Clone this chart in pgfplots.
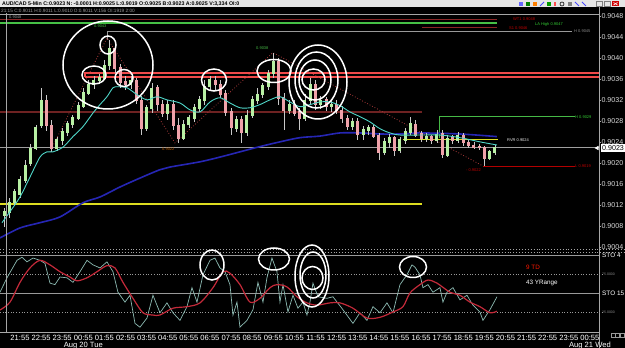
\documentclass[border=0pt]{standalone}
\usepackage{fontspec}
\setmainfont{Liberation Sans}
\usepackage{pgfplots}
\usepackage{pgfplotstable}
\pgfplotsset{compat=1.18}

\definecolor{upc}{HTML}{B8F0A4}
\definecolor{dnc}{HTML}{EFA2AA}
\definecolor{wick}{HTML}{C8C8C8}
\definecolor{axg}{HTML}{A8A8A8}
\definecolor{labg}{HTML}{DADADA}
\definecolor{grn}{HTML}{46C046}
\definecolor{dred}{HTML}{8A2626}
\definecolor{dred2}{HTML}{6E2222}
\definecolor{bandred}{HTML}{F04A4A}
\definecolor{yel}{HTML}{DCDC20}
\definecolor{cyanma}{HTML}{4FD6C8}
\definecolor{bluema}{HTML}{2626B4}
\definecolor{stof}{HTML}{8CBAB2}
\definecolor{stos}{HTML}{C42A3A}
\definecolor{titlebar}{HTML}{E6E6E6}
\definecolor{zig}{HTML}{A83A3A}

% 15-minute candles, x in hours after 21:55 (Aug 19)
\pgfplotstableread{
x o h l c
-0.75 0.90101 0.90114 0.90078 0.90107
-0.50 0.90107 0.90133 0.90095 0.90126
-0.25 0.90126 0.90152 0.90118 0.90145
0.00 0.90139 0.90175 0.90133 0.90168
0.25 0.90168 0.90206 0.90162 0.90196
0.50 0.90200 0.90236 0.90194 0.90229
0.75 0.90229 0.90272 0.90225 0.90267
1.00 0.90272 0.90343 0.90267 0.90320
1.75 0.90229 0.90251 0.90223 0.90244
2.00 0.90244 0.90267 0.90234 0.90259
2.25 0.90259 0.90282 0.90253 0.90274
2.50 0.90274 0.90293 0.90267 0.90286
2.75 0.90286 0.90316 0.90282 0.90309
3.00 0.90309 0.90343 0.90305 0.90335
3.25 0.90335 0.90358 0.90330 0.90350
3.50 0.90350 0.90366 0.90343 0.90358
3.75 0.90358 0.90370 0.90350 0.90362
4.00 0.90362 0.90396 0.90358 0.90387
4.25 0.90387 0.90434 0.90377 0.90419
5.25 0.90350 0.90366 0.90343 0.90358
6.00 0.90267 0.90312 0.90263 0.90305
6.25 0.90305 0.90354 0.90297 0.90343
7.00 0.90297 0.90320 0.90282 0.90312
7.75 0.90248 0.90282 0.90244 0.90274
8.00 0.90274 0.90293 0.90267 0.90286
8.25 0.90286 0.90314 0.90278 0.90305
8.50 0.90305 0.90328 0.90297 0.90320
8.75 0.90320 0.90358 0.90312 0.90347
9.00 0.90347 0.90366 0.90339 0.90358
10.25 0.90267 0.90290 0.90259 0.90282
10.75 0.90259 0.90301 0.90253 0.90291
11.00 0.90291 0.90328 0.90286 0.90320
11.25 0.90320 0.90343 0.90312 0.90331
11.50 0.90331 0.90354 0.90324 0.90347
11.75 0.90347 0.90377 0.90339 0.90370
12.00 0.90370 0.90410 0.90362 0.90392
12.75 0.90301 0.90320 0.90293 0.90312
13.50 0.90286 0.90331 0.90280 0.90320
13.75 0.90320 0.90362 0.90312 0.90350
14.25 0.90312 0.90328 0.90305 0.90320
14.75 0.90309 0.90320 0.90297 0.90312
15.75 0.90271 0.90286 0.90263 0.90278
16.25 0.90255 0.90271 0.90244 0.90263
16.50 0.90263 0.90274 0.90255 0.90267
17.25 0.90221 0.90248 0.90215 0.90240
17.50 0.90240 0.90255 0.90229 0.90248
18.00 0.90225 0.90251 0.90219 0.90244
18.25 0.90244 0.90267 0.90238 0.90259
18.50 0.90259 0.90288 0.90253 0.90274
19.25 0.90248 0.90257 0.90240 0.90251
19.75 0.90244 0.90263 0.90238 0.90255
20.25 0.90217 0.90255 0.90213 0.90248
20.75 0.90244 0.90259 0.90238 0.90253
22.25 0.90210 0.90225 0.90206 0.90221
22.50 0.90221 0.90234 0.90215 0.90230
}\uptab

\pgfplotstableread{
x o h l c
1.25 0.90320 0.90330 0.90263 0.90272
1.50 0.90272 0.90282 0.90221 0.90229
4.50 0.90419 0.90425 0.90373 0.90381
4.75 0.90381 0.90389 0.90343 0.90354
5.00 0.90354 0.90366 0.90339 0.90350
5.50 0.90358 0.90362 0.90312 0.90320
5.75 0.90320 0.90328 0.90253 0.90267
6.50 0.90343 0.90350 0.90301 0.90312
6.75 0.90312 0.90320 0.90288 0.90297
7.25 0.90312 0.90320 0.90263 0.90272
7.50 0.90272 0.90286 0.90238 0.90248
9.25 0.90358 0.90366 0.90339 0.90350
9.50 0.90350 0.90358 0.90324 0.90331
9.75 0.90331 0.90339 0.90290 0.90297
10.00 0.90297 0.90305 0.90255 0.90267
10.50 0.90282 0.90290 0.90238 0.90259
12.25 0.90392 0.90400 0.90312 0.90324
12.50 0.90324 0.90335 0.90263 0.90301
13.00 0.90312 0.90320 0.90290 0.90297
13.25 0.90297 0.90305 0.90263 0.90286
14.00 0.90350 0.90358 0.90301 0.90312
14.50 0.90320 0.90326 0.90301 0.90309
15.00 0.90312 0.90320 0.90293 0.90301
15.25 0.90301 0.90309 0.90278 0.90286
15.50 0.90286 0.90293 0.90263 0.90271
16.00 0.90278 0.90286 0.90244 0.90255
16.75 0.90267 0.90274 0.90248 0.90251
17.00 0.90251 0.90259 0.90206 0.90221
17.75 0.90248 0.90253 0.90215 0.90225
18.75 0.90274 0.90282 0.90250 0.90255
19.00 0.90255 0.90263 0.90242 0.90248
19.50 0.90251 0.90255 0.90238 0.90244
20.00 0.90255 0.90263 0.90210 0.90217
20.50 0.90248 0.90255 0.90238 0.90244
21.00 0.90253 0.90259 0.90234 0.90240
21.25 0.90240 0.90246 0.90229 0.90234
21.50 0.90234 0.90240 0.90227 0.90231
21.75 0.90231 0.90236 0.90225 0.90229
22.00 0.90229 0.90234 0.90195 0.90210
}\dntab

\begin{document}
\begin{tikzpicture}
\useasboundingbox (0,0) rectangle (625pt,348pt);
\fill[black] (0,0) rectangle (625pt,348pt);

% ---------------- price pane ----------------
\begin{axis}[
  at={(0pt,98pt)}, anchor=south west, scale only axis,
  width=599pt, height=242pt,
  xmin=-0.947, xmax=27.43, ymin=0.90034, ymax=0.90495,
  axis x line=none, axis y line=right,
  y axis line style={draw=axg, line width=0.8pt, -},
  ytick={0.9004,0.9008,0.9012,0.9016,0.902,0.9024,0.9028,0.9032,0.9036,0.904,0.9044,0.9048},
  tick align=outside, major tick length=2pt,
  ytick style={draw=axg, line width=0.6pt},
  scaled y ticks=false,
  /pgf/number format/assume math mode=true,
  yticklabel style={/pgf/number format/fixed, /pgf/number format/fixed zerofill, /pgf/number format/precision=4, font=\fontsize{7.1}{8}\selectfont, text=labg, inner sep=0.3pt},
]
% level lines
\addplot[gray!70, line width=1pt] coordinates {(-0.947,0.90482) (27.43,0.90482)};
\addplot[dred, line width=1pt] coordinates {(-0.947,0.90474) (22.60,0.90474)};
\addplot[grn, line width=2pt] coordinates {(-0.947,0.90467) (22.60,0.90467)};
\addplot[dred, line width=1pt] coordinates {(19.04,0.90457) (22.60,0.90457)};
\addplot[gray!80, line width=0.7pt] coordinates {(4.12,0.90434) (4.12,0.90451) (26.15,0.90451)};
\addplot[bandred, line width=2pt] coordinates {(3.08,0.903632) (27.6,0.903632) (27.6,0.90372) (3.08,0.90372) (3.08,0.903632)};
\addplot[dred2, line width=1.2pt] coordinates {(-0.947,0.90297) (19.04,0.90297)};
\addplot[gray!75, line width=0.8pt] coordinates {(-0.947,0.90230) (27.43,0.90230)};
\addplot[yel, line width=1.4pt] coordinates {(-0.947,0.90122) (19.04,0.90122)};
\addplot[green!45!gray, line width=0.7pt] coordinates {(19.85,0.90248) (19.85,0.90288) (26.29,0.90288)};
\addplot[red!70!black, line width=0.7pt] coordinates {(21.93,0.90194) (26.29,0.90194)};
% slow MA
\addplot[bluema, line width=1.6pt, smooth] coordinates {
(-0.947,0.90057) (0,0.90076) (0.947,0.90086) (1.895,0.90097) (2.984,0.90124) (3.790,0.90135)
(4.737,0.90154) (5.684,0.90171) (6.632,0.90187) (7.106,0.90192) (8.527,0.90202) (9.474,0.90211)
(10.422,0.90221) (11.369,0.90231) (12.316,0.90240) (13.264,0.90248) (14.211,0.90251) (15.159,0.90257)
(16.106,0.90257) (17.054,0.90255) (18.001,0.90255) (18.948,0.90257) (20.843,0.90255) (22.596,0.90250)};
% RVR line
\addplot[yel, line width=1.3pt] coordinates {(18.14,0.90244) (22.64,0.90244)};
% zigzag
\addplot[zig, dotted, line width=0.8pt] coordinates {(1.421,0.90221) (4.121,0.90438) (7.343,0.90238) (11.985,0.90410) (21.933,0.90194)};
% wicks
\addplot[draw=none, mark=none, error bars/.cd, y dir=both, y explicit, error mark=none,
  error bar style={draw=wick, line width=0.6pt, solid}]
  table[x=x, y expr=(\thisrow{h}+\thisrow{l})/2, y error expr=(\thisrow{h}-\thisrow{l})/2] {\uptab};
\addplot[draw=none, mark=none, error bars/.cd, y dir=both, y explicit, error mark=none,
  error bar style={draw=wick, line width=0.6pt, solid}]
  table[x=x, y expr=(\thisrow{h}+\thisrow{l})/2, y error expr=(\thisrow{h}-\thisrow{l})/2] {\dntab};
% bodies
\addplot[draw=none, mark=none, error bars/.cd, y dir=both, y explicit, error mark=none,
  error bar style={draw=upc, line width=3pt, solid}]
  table[x=x, y expr=(\thisrow{o}+\thisrow{c})/2, y error expr=(\thisrow{c}-\thisrow{o})/2+0.000015] {\uptab};
\addplot[draw=none, mark=none, error bars/.cd, y dir=both, y explicit, error mark=none,
  error bar style={draw=dnc, line width=3pt, solid}]
  table[x=x, y expr=(\thisrow{o}+\thisrow{c})/2, y error expr=(\thisrow{o}-\thisrow{c})/2+0.000015] {\dntab};
% fast MA
\addplot[cyanma, line width=0.9pt, smooth] coordinates {
(-0.853,0.90086) (-0.474,0.90107) (0,0.90135) (0.474,0.90173) (0.947,0.90211) (1.279,0.90221)
(1.563,0.90221) (2.037,0.90230) (2.511,0.90250) (2.984,0.90269) (3.458,0.90295) (3.790,0.90311)
(4.121,0.90326) (4.405,0.90343) (4.642,0.90345) (5.069,0.90343) (5.542,0.90330) (6.016,0.90320)
(6.490,0.90326) (6.963,0.90320) (7.579,0.90314) (8.053,0.90301) (8.527,0.90297) (9.001,0.90316)
(9.474,0.90324) (9.948,0.90314) (10.422,0.90305) (10.895,0.90305) (11.369,0.90311) (11.843,0.90320)
(12.316,0.90326) (12.790,0.90316) (13.264,0.90307) (13.738,0.90311) (14.211,0.90316) (14.685,0.90316)
(15.159,0.90309) (15.632,0.90297) (16.106,0.90288) (16.580,0.90278) (17.054,0.90265) (17.527,0.90257)
(18.001,0.90253) (18.948,0.90253) (19.896,0.90253) (20.843,0.90248) (21.790,0.90240) (22.596,0.90234)};
\end{axis}

% ---------------- STO pane ----------------
\begin{axis}[
  at={(0pt,16pt)}, anchor=south west, scale only axis,
  width=599pt, height=79pt,
  xmin=-0.947, xmax=27.43, ymin=-1.32, ymax=102.63,
  axis x line=bottom, axis y line=right,
  x axis line style={draw=axg, line width=0.8pt, -},
  y axis line style={draw=axg, line width=0.8pt, -},
  ytick=\empty,
  xtick={0,1,...,27},
  xticklabels={21:55,22:55,23:55,{00:55\\Aug 20 Tue},01:55,02:55,03:55,04:55,05:55,06:55,07:55,08:55,09:55,10:55,11:55,12:55,13:55,14:55,15:55,16:55,17:55,18:55,19:55,20:55,21:55,22:55,23:55,{00:55\\Aug 21 Wed}},
  xtick style={draw=none},
  xticklabel style={font=\fontsize{7.6}{7.2}\selectfont, text=white, align=center, inner sep=1pt},
]
\addplot[gray!80, line width=0.7pt] coordinates {(-0.947,100) (27.43,100)};
\addplot[gray!80, dotted, line width=0.7pt] coordinates {(-0.947,75) (27.43,75)};
\addplot[gray!80, line width=0.7pt] coordinates {(-0.947,50) (27.43,50)};
\addplot[gray!80, dotted, line width=0.7pt] coordinates {(-0.947,25) (27.43,25)};
\addplot[stof, line width=0.7pt] coordinates {
(-0.947,51) (-0.616,70) (-0.142,93) (0.095,97) (0.332,91) (0.616,96) (0.947,93) (1.184,89)
(1.421,63) (1.658,61) (1.895,71) (2.226,70) (2.511,64) (2.842,78) (3.174,93) (3.458,87)
(3.790,83) (4.121,91) (4.405,78) (4.642,51) (4.974,38) (5.211,47) (5.448,10) (5.684,5)
(6.016,17) (6.300,47) (6.632,24) (6.963,37) (7.248,24) (7.579,14) (7.911,32) (8.148,57)
(8.385,38) (8.669,74) (9.001,93) (9.237,96) (9.474,83) (9.711,78) (9.948,61) (10.090,21)
(10.279,38) (10.422,5) (10.753,14) (11.038,28) (11.274,64) (11.511,38) (11.700,70) (11.937,96)
(12.174,78) (12.316,38) (12.459,61) (12.695,25) (12.932,47) (13.169,30) (13.406,38) (13.595,21)
(13.738,38) (13.880,63) (14.117,45) (14.543,43) (14.827,45) (15.301,28) (15.775,10) (16.106,24)
(16.438,14) (16.722,32) (17.054,24) (17.385,37) (17.669,24) (18.001,61) (18.333,74) (18.569,87)
(18.711,84) (18.948,74) (19.090,57) (19.327,61) (19.564,51) (19.896,57) (20.038,38) (20.227,51)
(20.511,57) (20.843,41) (21.175,47) (21.459,34) (21.790,25) (21.933,14) (22.264,28) (22.596,45)};
\addplot[stos, line width=1.2pt, smooth] coordinates {
(-0.947,27.6) (-0.474,38) (0,64) (0.474,83) (0.947,93) (1.421,87) (1.895,78) (2.369,71)
(2.700,66) (3.174,70) (3.648,78) (4.121,86) (4.500,83) (4.879,64) (5.353,43) (5.827,24)
(6.300,21) (6.632,21) (7.248,30) (7.911,32) (8.527,37) (9.143,57) (9.616,78) (9.948,76)
(10.422,61) (10.895,38) (11.369,43) (11.843,57) (12.174,61) (12.648,58) (13.122,45) (13.595,37)
(14.069,34) (14.685,37) (15.159,37) (15.775,30) (16.438,17) (17.054,18) (17.669,25) (18.143,32)
(18.474,50) (18.948,61) (19.327,67) (19.754,63) (20.369,51) (20.843,47) (21.317,38) (21.790,32)
(22.264,24) (22.596,26)};
\end{axis}

% ---------------- annotations (pixel coordinates, y downwards) ----------------
\begin{scope}[x=1pt, y=-1pt, shift={(0pt,348pt)}]
% title bar
\fill[titlebar] (0,0) rectangle (625,7.2);
\node[anchor=west, inner sep=0, font=\fontsize{5.3}{5.3}\selectfont\bfseries, text=black] at (2,3.8)
  {AUD/CAD 5-Min C:0.9023 N: -0.0001 H:0.9025 L:0.9019 O:0.9025 B:0.9023 A:0.9025 V:3,334 OI:0};
\fill[blue!60] (519,2) rectangle (523,6);
\fill[green!50!black] (526,2) rectangle (530,6);
\fill[orange] (533,2) rectangle (537,6);
\draw[blue!70, line width=0.8pt] (540,6) -- (544,2);
\fill[green!60!black] (547,2) rectangle (551,6);
\fill[red!70] (554,2) rectangle (556,6);
\draw[black, line width=0.6pt] (562,4) circle (2);
\fill[gray] (568,2) rectangle (572,6);
\draw[blue!70, line width=0.8pt] (575,2) -- (579,6);
\draw[blue!70, line width=0.8pt] (582,2) -- (586,6);
\draw[gray, line width=0.5pt] (596,1.5) rectangle (602,6);
\draw[gray, line width=0.5pt] (604,1.5) rectangle (610,6);
\fill[red!80!black] (612,1.2) rectangle (619,6.3);
\draw[white, line width=0.6pt] (613.5,2.5) -- (617.5,5); \draw[white, line width=0.6pt] (613.5,5) -- (617.5,2.5);
% second header line
\node[anchor=west, inner sep=0, font=\fontsize{4.7}{4.7}\selectfont, text=gray!80] at (1,10.6)
  {21:15 C:0.9011 H:0.9011 L:0.9010 O:0.9011 V:156 OI:1919 2:00};
% frame lines
\draw[axg, line width=0.8pt] (599.4,7.2) -- (599.4,348);
\draw[gray!70, line width=0.6pt] (6.5,13) -- (6.5,332);
\draw[gray!70, dotted, line width=0.9pt] (0,249.8) -- (625,249.8);
\draw[gray!70, dotted, line width=0.9pt] (0,252.2) -- (625,252.2);
% small texts in price pane
\node[anchor=west, inner sep=0, font=\fontsize{4}{4}\selectfont, text=gray!80] at (9,17.5) {0.9048};
\node[anchor=west, inner sep=0, font=\fontsize{4}{4}\selectfont, text=green!45!gray] at (94,26.5) {0.9043};
\node[anchor=west, inner sep=0, font=\fontsize{4}{4}\selectfont, text=green!45!gray] at (256,48) {0.9038};
\node[anchor=west, inner sep=0, font=\fontsize{4}{4}\selectfont, text=orange!70!black] at (162,149.5) {0.9022};
\node[anchor=west, inner sep=0, font=\fontsize{4}{4}\selectfont, text=red!75!black] at (513,19) {WT1 0.9048};
\node[anchor=west, inner sep=0, font=\fontsize{4}{4}\selectfont, text=green!60!gray] at (535,24.5) {LA High 0.9047};
\node[anchor=west, inner sep=0, font=\fontsize{4}{4}\selectfont, text=red!75!black] at (509,28.5) {S1 0.9046};
\node[anchor=west, inner sep=0, font=\fontsize{4}{4}\selectfont, text=gray!90] at (574,31.5) {H 0.9045};
\node[anchor=west, inner sep=0, font=\fontsize{4}{4}\selectfont, text=green!60!gray] at (575,117) {H 0.9029};
\node[anchor=west, inner sep=0, font=\fontsize{4}{4}\selectfont, text=white!85!gray] at (507,140.5) {RVR 0.9024};
\node[anchor=west, inner sep=0, font=\fontsize{4}{4}\selectfont, text=red!75!black] at (575,166) {L 0.9019};
\node[anchor=west, inner sep=0, font=\fontsize{4}{4}\selectfont, text=red!75!black] at (466,170.5) {- 0.9022};
% current price box
\fill[white] (600.5,143.8) rectangle (625,152.2);
\node[anchor=west, inner sep=0, font=\fontsize{7.1}{8}\selectfont, text=black] at (602,148.2) {0.9023};
\fill[white] (594.5,148) -- (598.5,145.8) -- (598.5,150.2) -- cycle;
% STO pane texts
\node[anchor=west, inner sep=0, font=\fontsize{6.3}{6.3}\selectfont, text=red!80!orange] at (526,267) {9 TD};
\node[anchor=west, inner sep=0, font=\fontsize{6.3}{6.3}\selectfont, text=white] at (526,283) {43 YRange};
\node[anchor=west, inner sep=0, font=\fontsize{6.4}{7}\selectfont, text=white] at (602,255.8) {STO 4};
\node[anchor=west, inner sep=0, font=\fontsize{3.5}{3.5}\selectfont, text=gray!90] at (602,274.5) {75.0000};
\node[anchor=west, inner sep=0, font=\fontsize{6.4}{7}\selectfont, text=white] at (602,293.5) {STO 15};
\node[anchor=west, inner sep=0, font=\fontsize{3.5}{3.5}\selectfont, text=gray!90] at (602,312.5) {25.0000};
\draw[gray!80, dotted, line width=0.7pt] (599,274.3) -- (602,274.3);
\draw[gray!80, dotted, line width=0.7pt] (599,312.3) -- (602,312.3);
\draw[gray!80, line width=0.5pt] (611,333) rectangle (615,337) (615.5,333) rectangle (619.5,337) (620,333) rectangle (624,337);
% circles
\begin{scope}[white, line width=1.5pt]
\draw (108,65) ellipse [x radius=45, y radius=44];
\draw (108,45) ellipse [x radius=8, y radius=9];
\draw (94,75) ellipse [x radius=12, y radius=9];
\draw (124,78) ellipse [x radius=9, y radius=8.5];
\draw (214,80) ellipse [x radius=12.5, y radius=11];
\draw (274,71) ellipse [x radius=17, y radius=11.5];
\draw (318,82) ellipse [x radius=29, y radius=37];
\draw (316.5,80) ellipse [x radius=21.5, y radius=28];
\draw (315,80) ellipse [x radius=16, y radius=20];
\draw (313.5,79.5) ellipse [x radius=11.5, y radius=10.5];
\draw (212,265) ellipse [x radius=12, y radius=15];
\draw (274,259) ellipse [x radius=15.5, y radius=11];
\draw (312,276) ellipse [x radius=17, y radius=31];
\draw (313,275) ellipse [x radius=13, y radius=23];
\draw (312.5,278) ellipse [x radius=10.5, y radius=11.5];
\draw (413,267) ellipse [x radius=13.5, y radius=10.5];
\end{scope}
\end{scope}
\end{tikzpicture}
\end{document}
